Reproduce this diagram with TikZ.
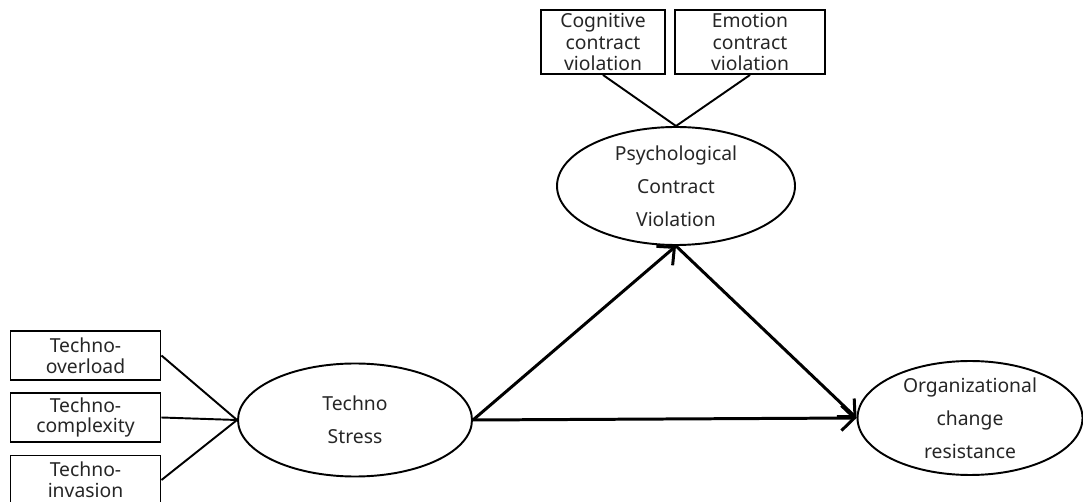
\documentclass[tikz,border=0pt]{standalone}
\usepackage{fontspec}
\setmainfont{Noto Sans}
\usetikzlibrary{shapes.geometric, arrows.meta}

\begin{document}
\begin{tikzpicture}[
    indicator/.style={rectangle, draw, line width=1.1pt, inner sep=0pt, align=center,
        minimum width=3cm, minimum height=0.98cm, text=black!85,
        font=\fontsize{11pt}{11.8pt}\selectfont},
    construct/.style={ellipse, draw, line width=1.1pt, inner sep=0pt, align=center,
        text=black!85, font=\fontsize{11pt}{18.7pt}\selectfont},
    path/.style={line width=1.7pt, -{Straight Barb[length=2.6mm, width=5mm, line width=1.7pt]}}
]
    \useasboundingbox (0,0) rectangle (21.66,10.02);
    % Techno Stress indicators
    \foreach \name/\i/\y in {overload/1/2.91, complexity/2/1.67, invasion/3/0.42} {
        \node[indicator] (Stress-\i) at (1.71,\y) {Techno-\\\name};
    }
    % Constructs
    \node[construct, minimum width=4.68cm, minimum height=2.26cm] (Stress) at (7.10,1.62) {Techno\\Stress};
    \node[construct, minimum width=4.76cm, minimum height=2.36cm] (Violation) at (13.52,6.30) {Psychological\\Contract\\Violation};
    \node[construct, minimum width=4.5cm, minimum height=2.26cm] (Resistance) at (19.40,1.66) {Organizational\\change\\resistance};
    % Violation indicators
    \node[indicator, minimum width=2.48cm, minimum height=1.28cm, font=\fontsize{11pt}{12.5pt}\selectfont] (Violation-1) at (12.06,9.18) {Cognitive\\contract\\violation};
    \node[indicator, minimum height=1.28cm, font=\fontsize{11pt}{12.5pt}\selectfont] (Violation-2) at (15.00,9.18) {Emotion\\contract\\violation};
    % Lines
    \foreach \i in {1,2,3} {
        \draw[line width=1.1pt] (Stress-\i.east) -- (Stress.west);
    }
    \foreach \i in {1,2} {
        \draw[line width=1.1pt] (Violation-\i.south) -- (Violation.north);
    }
    % Arrows
    \draw[path] (Stress.east) -- (Violation.south);
    \draw[path] (Stress.east) -- (Resistance.west);
    \draw[path] (Violation.south) -- (Resistance.west);
\end{tikzpicture}
\end{document}
